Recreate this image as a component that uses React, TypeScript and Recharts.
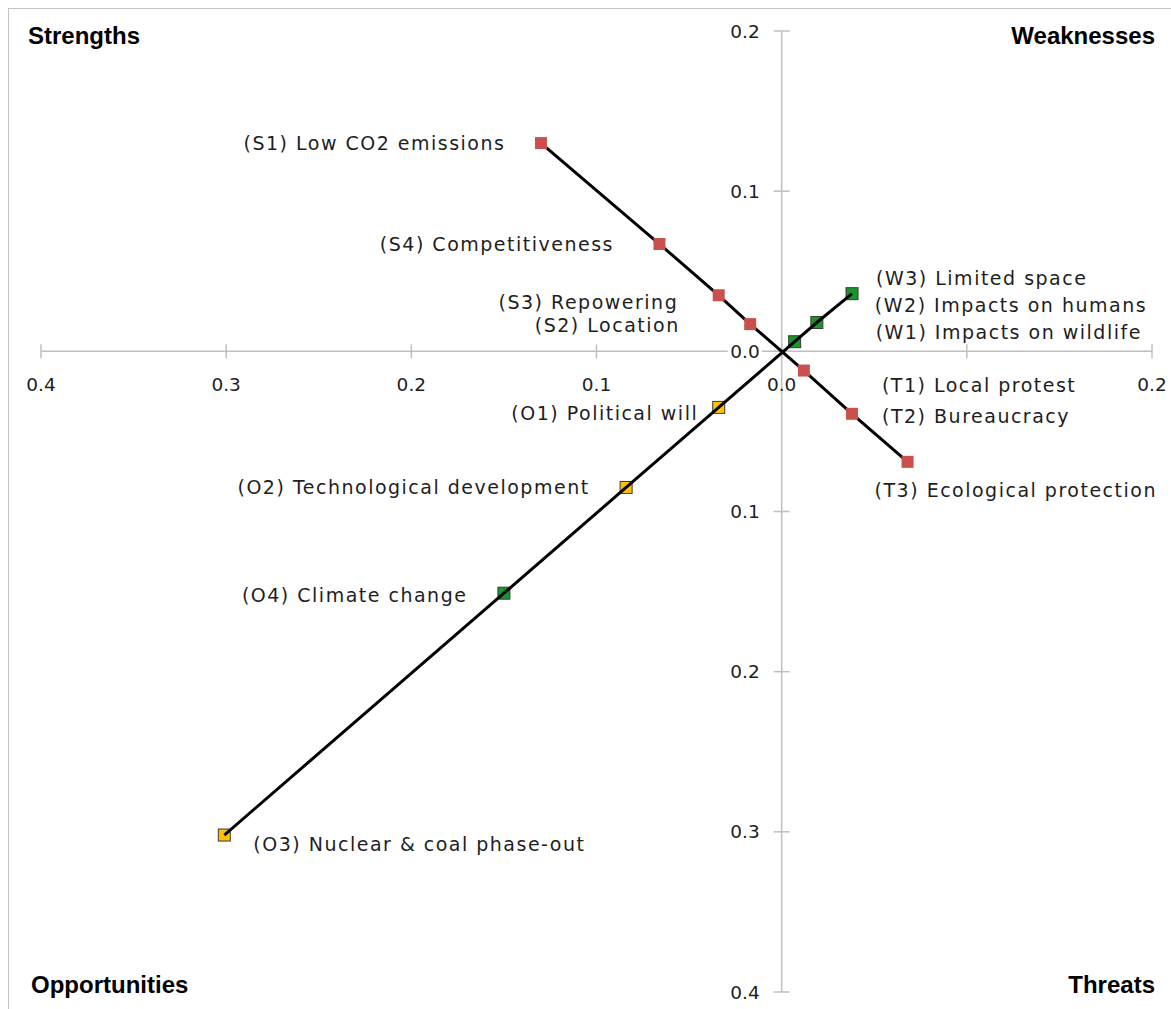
import React from 'react';
import { ScatterChart, Scatter, XAxis, YAxis, ReferenceLine, ReferenceDot } from 'recharts';

// ---------- data ----------
const strengths = [
  { id: 'S1', name: '(S1) Low CO2 emissions', x: -0.130, y: 0.130 },
  { id: 'S4', name: '(S4) Competitiveness', x: -0.066, y: 0.067 },
  { id: 'S3', name: '(S3) Repowering', x: -0.034, y: 0.035 },
  { id: 'S2', name: '(S2) Location', x: -0.017, y: 0.017 },
];
const threats = [
  { id: 'T1', name: '(T1) Local protest', x: 0.012, y: -0.012 },
  { id: 'T2', name: '(T2) Bureaucracy', x: 0.038, y: -0.039 },
  { id: 'T3', name: '(T3) Ecological protection', x: 0.068, y: -0.069 },
];
const weaknesses = [
  { id: 'W1', name: '(W1) Impacts on wildlife', x: 0.007, y: 0.006 },
  { id: 'W2', name: '(W2) Impacts on humans', x: 0.019, y: 0.018 },
  { id: 'W3', name: '(W3) Limited space', x: 0.038, y: 0.036 },
];
const opportunities = [
  { id: 'O1', name: '(O1) Political will', x: -0.034, y: -0.035 },
  { id: 'O2', name: '(O2) Technological development', x: -0.084, y: -0.085 },
  { id: 'O4', name: '(O4) Climate change', x: -0.150, y: -0.151 },
  { id: 'O3', name: '(O3) Nuclear & coal phase-out', x: -0.301, y: -0.302 },
];
const xTickValues = [-0.4, -0.3, -0.2, -0.1, 0, 0.1, 0.2];
const xTickLabels = ['0.4', '0.3', '0.2', '0.1', '0.0', '', '0.2'];
const yTickValues = [0.2, 0.1, 0, -0.1, -0.2, -0.3, -0.4];
const yTickLabels = ['0.2', '0.1', '0.0', '0.1', '0.2', '0.3', '0.4'];
const quadrantNames = ['Strengths', 'Weaknesses', 'Opportunities', 'Threats'];

// ---------- styling ----------
const AXIS = '#bfbfbf';
const TXT = '#1e1e1e';
const RED = '#C9504C';
const GREEN = '#16972a';
const YELLOW = '#FFC000';
const markerColor: Record<string, string> = {
  S1: RED, S2: RED, S3: RED, S4: RED, T1: RED, T2: RED, T3: RED,
  W1: GREEN, W2: GREEN, W3: GREEN, O4: GREEN,
  O1: YELLOW, O2: YELLOW, O3: YELLOW,
};
// label offset from marker centre in px: [dx, dy, anchor]
const labelOffset: Record<string, [number, number, 'start' | 'end']> = {
  S1: [-37, 0, 'end'],
  S4: [-47, 0, 'end'],
  S3: [-42, 7, 'end'],
  S2: [-72, 1, 'end'],
  O1: [-22, 6, 'end'],
  O2: [-38, 0, 'end'],
  O4: [-38, 2, 'end'],
  O3: [29, 9, 'start'],
  W3: [24, -16, 'start'],
  W2: [58, -18, 'start'],
  W1: [81, -10, 'start'],
  T1: [78, 14, 'start'],
  T2: [30, 2, 'start'],
  T3: [-33, 28, 'start'],
};

const stLine = [...strengths, ...threats].slice().sort((a, b) => a.x - b.x);
const owLine = [...opportunities, ...weaknesses].slice().sort((a, b) => a.x - b.x);

const LABEL_FONT = '"DejaVu Sans", Verdana, sans-serif';

const Marker = (props: any) => {
  const { cx, cy, payload } = props;
  if (cx == null || cy == null) return <g />;
  const id = payload.id;
  const c = markerColor[id];
  const red = c === RED;
  const s = 12;
  const [dx, dy, anchor] = labelOffset[id];
  return (
    <g>
      <rect
        x={cx - s / 2}
        y={cy - s / 2}
        width={s}
        height={s}
        fill={c}
        stroke={red ? c : '#3a3a3a'}
        strokeWidth={red ? 0 : 1}
      />
      <text
        x={cx + dx + (anchor === 'end' ? 1.5 : 0)}
        y={cy + dy}
        textAnchor={anchor}
        dominantBaseline="central"
        fontFamily={LABEL_FONT}
        fontSize={19}
        letterSpacing={1.5}
        fill={TXT}
      >
        {payload.name}
      </text>
    </g>
  );
};

const NoShape = () => <g />;

const makeXTick = (label: string) => (p: any) => (
  <g>
    <line x1={p.cx} x2={p.cx} y1={p.cy - 7} y2={p.cy + 7} stroke={AXIS} strokeWidth={1.5} />
    {label ? (
      <text
        x={p.cx}
        y={p.cy + 33}
        textAnchor="middle"
        dominantBaseline="central"
        fontFamily={LABEL_FONT}
        fontSize={18.5}
        fill={TXT}
      >
        {label}
      </text>
    ) : null}
  </g>
);

const makeYTick = (label: string) => (p: any) => (
  <g>
    <line x1={p.cx - 8} x2={p.cx + 8} y1={p.cy} y2={p.cy} stroke={AXIS} strokeWidth={1.5} />
    <rect x={p.cx - 54} y={p.cy - 10} width={34} height={20} fill="#fff" />
    <text
      x={p.cx - 22}
      y={p.cy}
      textAnchor="end"
      dominantBaseline="central"
      fontFamily={LABEL_FONT}
      fontSize={18.5}
      fill={TXT}
    >
      {label}
    </text>
  </g>
);

export default function App() {
  const qStyle = {
    fontFamily: '"Liberation Sans", Arial, sans-serif',
    fontWeight: 700,
    fontSize: 24,
    fill: '#000',
  } as const;
  return (
    <div style={{ position: 'absolute', left: 0, top: 0, width: 1171, height: 1009, background: '#fff', overflow: 'hidden' }}>
      <div
        style={{
          position: 'absolute',
          left: 8,
          top: 8,
          width: 1300,
          height: 1100,
          borderTop: '1.5px solid #c4c4c4',
          borderLeft: '1.5px solid #c4c4c4',
        }}
      />
      <div style={{ position: 'absolute', left: 0, top: 0 }}>
        <ScatterChart width={1171} height={1009} margin={{ top: 31, right: 19, bottom: 17, left: 41 }}>
          <XAxis type="number" dataKey="x" domain={[-0.4, 0.2]} hide />
          <YAxis type="number" dataKey="y" domain={[-0.4, 0.2]} hide />
          <ReferenceLine x={0} stroke={AXIS} strokeWidth={1.5} />
          <ReferenceLine y={0} stroke={AXIS} strokeWidth={1.5} />
          {xTickValues.map((v, i) => (
            <ReferenceDot key={'xt' + i} x={v} y={0} r={1} shape={makeXTick(xTickLabels[i])} />
          ))}
          {yTickValues.map((v, i) => (
            <ReferenceDot key={'yt' + i} x={0} y={v} r={1} shape={makeYTick(yTickLabels[i])} />
          ))}
          <Scatter data={weaknesses} shape={Marker} isAnimationActive={false} />
          <Scatter data={opportunities} shape={Marker} isAnimationActive={false} />
          <Scatter data={stLine} line={{ stroke: '#000', strokeWidth: 3 }} shape={NoShape} isAnimationActive={false} />
          <Scatter data={owLine} line={{ stroke: '#000', strokeWidth: 3 }} shape={NoShape} isAnimationActive={false} />
          <Scatter data={strengths} shape={Marker} isAnimationActive={false} />
          <Scatter data={threats} shape={Marker} isAnimationActive={false} />
        </ScatterChart>
      </div>
      <svg width={1171} height={1009} style={{ position: 'absolute', left: 0, top: 0, pointerEvents: 'none' }}>
        <text x={28} y={44} {...qStyle}>{quadrantNames[0]}</text>
        <text x={1155} y={44} textAnchor="end" {...qStyle}>{quadrantNames[1]}</text>
        <text x={31} y={993} {...qStyle}>{quadrantNames[2]}</text>
        <text x={1155} y={993} textAnchor="end" {...qStyle}>{quadrantNames[3]}</text>
      </svg>
    </div>
  );
}
